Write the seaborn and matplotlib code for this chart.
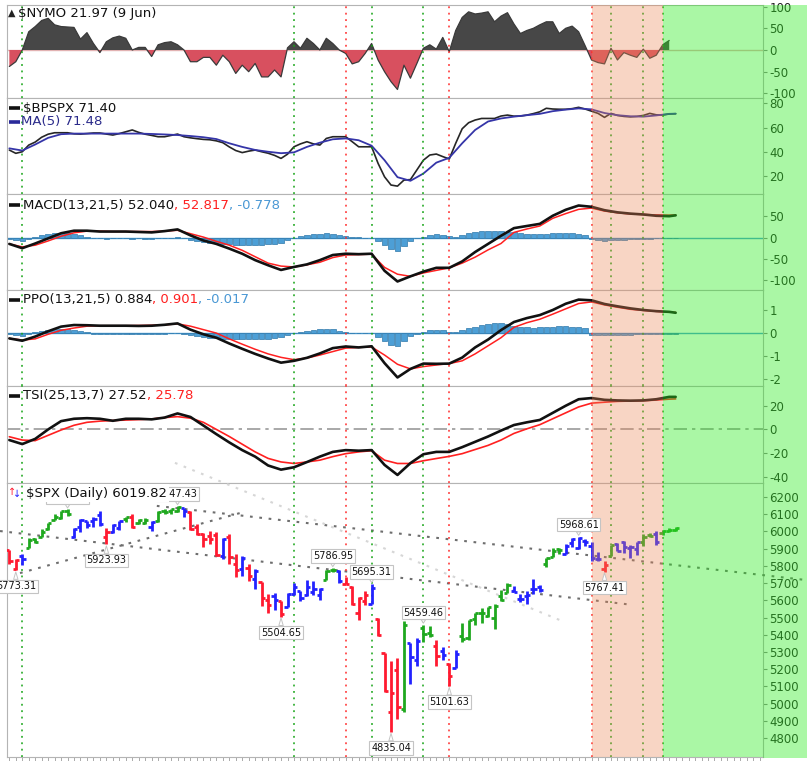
#!/usr/bin/env python3
# -*- coding: utf-8 -*-
"""
StockCharts-style breadth panel: $NYMO, $BPSPX, MACD, PPO, TSI and $SPX daily bars.
Saves out.png (807x761).
"""

import numpy as np
import pandas as pd
import seaborn as sns
import matplotlib
matplotlib.use("Agg")
import matplotlib.pyplot as plt
from matplotlib.patches import Rectangle

# -------------------------- Data --------------------------
# trading-day index 0 = 10 Jan 2025 ... 103 = 10 Jun 2025
spx_open = [5890, 5782, 5859, 5905, 5958, 5969, 6015, 6069, 6077, 6121,
            5970, 6026, 6058, 6063, 6097, 5969, 5998, 6020, 6072, 6083,
            6046, 6049, 6025, 6060, 6116, 6121, 6118, 6134, 6115, 6026,
            5982, 5971, 5981, 5857, 5968, 5812, 5782, 5786, 5726, 5705,
            5604, 5624, 5594, 5563, 5635, 5654, 5633, 5646, 5630, 5719,
            5775, 5772, 5696, 5679, 5527, 5597, 5581, 5492, 5292, 4953,
            5194, 4966, 5353, 5255, 5441, 5412, 5335, 5306, 5232, 5207,
            5395, 5381, 5490, 5529, 5509, 5499, 5626, 5645, 5655, 5605,
            5626, 5663, 5679, 5808, 5854, 5895, 5870, 5930, 5903, 5945,
            5915, 5841, 5781, 5855, 5926, 5939, 5903, 5897, 5939, 5978,
            5985, 5988, 6004, 6010]
spx_high = [5890, 5837, 5871, 5960, 5961, 6014, 6051, 6100, 6118, 6128,
            6017, 6070, 6063, 6086, 6121, 6022, 6042, 6062, 6084, 6101,
            6074, 6076, 6063, 6116, 6128, 6130, 6147, 6134, 6120, 6044,
            5992, 6000, 5994, 5959, 5986, 5866, 5860, 5812, 5783, 5706,
            5636, 5642, 5598, 5645, 5703, 5654, 5715, 5711, 5670, 5775,
            5787, 5777, 5733, 5685, 5621, 5651, 5695, 5500, 5293, 5246,
            5267, 5481, 5353, 5381, 5459, 5450, 5367, 5329, 5233, 5309,
            5469, 5485, 5528, 5553, 5563, 5581, 5659, 5700, 5683, 5637,
            5655, 5721, 5691, 5846, 5906, 5906, 5924, 5959, 5969, 5954,
            5939, 5878, 5830, 5922, 5930, 5944, 5922, 5937, 5982, 5990,
            6000, 6007, 6022, 6024]
spx_low = [5809, 5773, 5805, 5905, 5930, 5969, 6007, 6065, 6074, 6088,
           5962, 5994, 6019, 6027, 6030, 5924, 5991, 6007, 6056, 6020,
           6044, 6043, 6003, 6053, 6103, 6099, 6111, 6084, 6009, 5977,
           5909, 5928, 5858, 5837, 5810, 5733, 5743, 5711, 5667, 5566,
           5529, 5546, 5505, 5563, 5632, 5597, 5622, 5632, 5603, 5719,
           5764, 5703, 5695, 5572, 5488, 5572, 5578, 5391, 5070, 4835,
           4911, 4949, 5115, 5221, 5358, 5387, 5221, 5255, 5102, 5207,
           5357, 5372, 5456, 5468, 5505, 5434, 5597, 5645, 5647, 5592,
           5579, 5635, 5650, 5794, 5854, 5868, 5867, 5908, 5895, 5914,
           5830, 5826, 5767, 5855, 5887, 5873, 5843, 5861, 5918, 5967,
           5921, 5979, 5994, 6000]
spx_close = [5827, 5836, 5842, 5950, 5937, 5997, 6049, 6086, 6119, 6101,
             6012, 6068, 6039, 6071, 6041, 5994, 6038, 6061, 6084, 6026,
             6066, 6068, 6052, 6115, 6115, 6129, 6144, 6118, 6013, 5983,
             5955, 5956, 5861, 5955, 5849, 5778, 5843, 5739, 5770, 5615,
             5572, 5599, 5522, 5639, 5675, 5615, 5675, 5663, 5667, 5768,
             5777, 5712, 5693, 5581, 5612, 5633, 5671, 5397, 5074, 5062,
             4982, 5457, 5268, 5363, 5406, 5397, 5276, 5283, 5158, 5288,
             5376, 5485, 5525, 5529, 5561, 5569, 5604, 5687, 5650, 5607,
             5631, 5664, 5660, 5844, 5886, 5892, 5917, 5958, 5964, 5941,
             5845, 5842, 5802, 5922, 5889, 5912, 5912, 5936, 5970, 5971,
             5939, 6000, 6006, 6020]
# impulse colour per bar: G up, R down, B neutral
spx_impulse = ("RRBGGGGGGG" "BBBBBRBBGR" "GGBGGGGBRR" "RRRBRRBRBR"
               "RBRBBBBBBG" "GBRRRRBRRR" "RGBBGGRBRB" "GGGGGGGGBB"
               "BBBGGGBBBB" "BBRGBBBBGG" "BGGG")

nymo = [-38, -27, 0, 42, 54, 68, 73, 58, 54, 53,
        52, 25, 40, 15, -6, 19, 28, 32, 27, 0,
        6, 6, -15, 12, 17, 19, 12, 0, -27, -27,
        -17, -17, -35, -12, -27, -54, -35, -50, -31, -62,
        -62, -46, -62, 5, 19, 4, 27, 15, 0, 27,
        15, 0, -8, -32, -27, -8, 15, -23, -50, -73,
        -91, -35, -65, -31, 4, 12, 2, 29, -4, 45,
        75, 88, 83, 85, 88, 65, 78, 86, 60, 38,
        45, 50, 58, 65, 65, 38, 50, 55, 42, 10,
        -23, -29, -32, 4, -23, -6, -12, -17, 2, -19,
        -12, 12, 22]

bpspx = [41.4, 38.7, 40, 45.5, 48, 52, 54.5, 55.7, 55.7, 55.7,
         54.8, 54.6, 55, 55.5, 55.5, 54.6, 53.8, 55, 56.5, 58,
         56, 54.5, 53.5, 52.4, 52.4, 53.5, 54.6, 52.4, 51.5, 50.8,
         50.2, 49.9, 49, 47.5, 44, 41, 39.3, 40.5, 41.4, 40,
         38.8, 37, 34.5, 38, 44.1, 46.5, 48.3, 46.5, 45.5, 51,
         52.4, 52.4, 52.4, 48.3, 44.1, 44.1, 44.1, 30.4, 19.3, 12.5,
         11.6, 16.6, 17, 25, 33, 37.3, 38.1, 36, 34, 47,
         59, 64, 66.2, 67.5, 67.5, 67.5, 69.5, 70.3, 69.4, 69.5,
         70.3, 71.5, 73, 75.9, 75.3, 75.1, 75.1, 75.6, 76.7, 75.3,
         73.5, 71.7, 68.4, 71.7, 70, 69.2, 68.8, 69.2, 70, 71.7,
         70.5, 70.3, 71.2, 71.4]

# smooth indicator lines are read every second session
line_days = [*range(0, 103, 2), 103]
bpspx_ma5 = [42.8, 41, 46, 51.5, 54.5, 55, 55, 55, 55, 55, 55, 54.7, 54.3, 53.8,
             53, 52, 50.5, 47, 44, 41.5, 40, 38.8, 39.5, 44, 47.5, 50.3, 51,
             49.5, 45, 33, 19, 16, 22, 31, 35, 47, 58, 65, 67.5, 69, 70.2, 71.3,
             73.5, 74.8, 75.8, 75, 72, 70.2, 69.3, 69, 70, 71.3, 71.48]

macd_line = [-15, -25, -14, -2, 10, 16, 16, 14, 14, 14, 13, 12, 15, 19, 5, -7, -15,
             -26, -38, -53, -65, -76, -69, -63, -53, -41, -38, -39, -38, -78, -103,
             -91, -80, -71, -71, -56, -34, -15, 4, 22, 27, 32, 51, 65, 75, 72, 64,
             59, 56, 54, 51, 50, 52]
macd_signal = [-15, -22, -18, -8, 3, 11, 15, 15, 14, 14, 14, 14, 15, 17, 9, 1, -9,
               -18, -30, -45, -60, -67, -69, -64, -58, -47, -41, -40, -39, -70, -86,
               -91, -83, -77, -71, -60, -46, -29, -14, 12, 20, 27, 45, 56, 66, 69, 62,
               58, 55, 54, 53, 52.5, 52.8]
macd_hist = [-4, -6, -7, -3, 1, 5, 8, 10, 11, 11,
             9, 6, 2, -1, -2, -3, -2, -2, -1, -3,
             -2, -3, -3, -2, -1, 0, 1, -2, -6, -8,
             -10, -12, -13, -15, -16, -17, -18, -18, -18, -17,
             -16, -15, -12, -6, 0, 3, 6, 8, 9, 10,
             9, 6, 3, 1, 1, 0, 0, -8, -18, -27,
             -31, -20, -8, -2, 2, 6, 8, 6, 3, 2,
             6, 10, 13, 15, 15, 15, 15, 14, 12, 10,
             9, 8, 9, 9, 10, 11, 11, 10, 9, 6,
             -4, -6, -7, -6, -5, -5, -4, -4, -3, -3,
             -2, -2, -1, -1]

ppo_line = [-0.23, -0.33, -0.15, 0.08, 0.28, 0.35, 0.34, 0.32, 0.32, 0.32, 0.31,
            0.32, 0.36, 0.42, 0.15, -0.05, -0.2, -0.45, -0.68, -0.9, -1.1, -1.28,
            -1.2, -1.07, -0.88, -0.65, -0.58, -0.62, -0.57, -1.3, -1.92, -1.55,
            -1.32, -1.33, -1.32, -1.06, -0.62, -0.28, 0.13, 0.48, 0.65, 0.78, 1.0,
            1.27, 1.45, 1.42, 1.26, 1.16, 1.07, 1.0, 0.95, 0.92, 0.88]
ppo_signal = [-0.23, -0.3, -0.25, -0.05, 0.12, 0.22, 0.3, 0.32, 0.32, 0.32, 0.33,
              0.34, 0.36, 0.4, 0.3, 0.15, 0.0, -0.25, -0.48, -0.7, -0.9, -1.05,
              -1.15, -1.08, -0.95, -0.8, -0.65, -0.62, -0.6, -0.95, -1.35, -1.55,
              -1.45, -1.38, -1.32, -1.2, -0.9, -0.55, -0.2, 0.25, 0.45, 0.6, 0.82,
              1.05, 1.28, 1.35, 1.22, 1.12, 1.03, 0.98, 0.94, 0.91, 0.90]
ppo_hist = [-0.06, -0.1, -0.12, -0.06, 0.03, 0.1, 0.15, 0.18, 0.19, 0.18,
            0.15, 0.1, 0.04, -0.02, -0.04, -0.05, -0.04, -0.04, -0.02, -0.05,
            -0.04, -0.05, -0.05, -0.04, -0.02, 0.0, 0.02, -0.04, -0.1, -0.14,
            -0.17, -0.2, -0.22, -0.24, -0.25, -0.26, -0.27, -0.27, -0.26, -0.25,
            -0.24, -0.22, -0.18, -0.09, 0.0, 0.06, 0.11, 0.15, 0.17, 0.19,
            0.17, 0.11, 0.06, 0.02, 0.02, 0.0, 0.0, -0.15, -0.33, -0.5,
            -0.55, -0.36, -0.14, -0.04, 0.04, 0.12, 0.15, 0.12, 0.06, 0.04,
            0.12, 0.2, 0.28, 0.35, 0.4, 0.42, 0.42, 0.38, 0.32, 0.28,
            0.26, 0.24, 0.26, 0.27, 0.28, 0.3, 0.3, 0.28, 0.26, 0.22,
            -0.07, -0.09, -0.1, -0.09, -0.08, -0.08, -0.07, -0.06, -0.05, -0.05,
            -0.04, -0.03, -0.02, -0.02]

tsi_line = [-9, -12.4, -8, 0, 7, 9, 9.5, 9, 7.3, 9, 9, 8.5, 10, 13.5, 10.5, 3.3, -4,
            -11, -17.5, -23, -30.5, -34, -32, -27.6, -23, -19, -17.5, -18, -17.5, -30,
            -38.5, -28.5, -21, -19, -19, -15, -10.5, -6, -1, 3.7, 6, 8, 14, 20, 25.5,
            26.5, 25, 24.5, 24.3, 24.5, 25.5, 27.5, 27.5]
tsi_signal = [-6.2, -9, -9.5, -5, -0.5, 3.5, 6, 7, 7.5, 7.9, 8.3, 8.8, 10, 10.8, 9.5,
              6, 0, -6, -12.5, -19, -24.5, -27.5, -28.8, -27.5, -26, -23, -20.5, -19,
              -18, -26, -28.8, -28.8, -26.5, -24.6, -22.8, -20.5, -17, -13.5, -9, -3.4,
              0.5, 4, 9, 14, 19, 22.2, 23, 23.7, 24, 24.3, 24.8, 25.6, 25.8]

# event markers (session index) and shaded windows
event_days = [2, 44, 52, 56, 64, 68, 90, 93, 98, 101]
event_kind = ["buy", "buy", "sell", "buy", "buy", "sell", "sell", "buy", "buy", "buy"]
caution_start, caution_end = 90, 101
go_start = 101

# swing labels: session, kind, text
swing_days = [1, 9, 15, 26, 42, 50, 56, 59, 64, 68, 88, 92]
swing_kind = ["low", "high", "low", "high", "low", "high", "high", "low", "high", "low", "high", "low"]
swing_text = ["5773.31", "6128.18", "5923.93", "6147.43", "5504.65", "5786.95",
              "5695.31", "4835.04", "5459.46", "5101.63", "5968.61", "5767.41"]

# hand-drawn trendlines: (day0, price0) -> (day1, price1)
trend_x0 = [-1.44, 1.65, 22.8, 25.6]
trend_y0 = [6002, 5758, 6148, 6398]
trend_x1 = [96.4, 35.7, 124.0, 85.1]
trend_y1 = [5573, 6107, 5714, 5485]
trend_shade = ["dark", "dark", "dark", "light"]

# -------------------------- Style --------------------------
sns.set_theme(style="white")
plt.rcParams["font.family"] = ["DejaVu Sans"]
plt.rcParams["axes.unicode_minus"] = False

W, H = 807, 761
PLOT_L, PLOT_R = 7, 763
PANELS = [(5, 98), (98, 194), (194, 290), (290, 386), (386, 483), (483, 757)]
XLIM = (-0.36, 116.5)

SALMON = (235 / 255, 135 / 255, 86 / 255)
GREEN = (43 / 255, 235 / 255, 30 / 255)
BAR_COL = {"G": "#1fa81f", "R": "#ff1a30", "B": "#2222ff"}
EVENT_COL = {"buy": "#13a313", "sell": "#ff2a2a"}
HIST_FC, HIST_EC = "#4d9fd6", "#2f78aa"
TITLE_FS = 9.5

fig = plt.figure(figsize=(W / 100, H / 100), dpi=100)
fig.patch.set_facecolor("white")

axes = []
for top, bot in PANELS:
    ax = fig.add_axes([PLOT_L / W, 1 - bot / H, (PLOT_R - PLOT_L) / W, (bot - top) / H])
    ax.set_xlim(*XLIM)
    ax.set_facecolor("white")
    for sp in ax.spines.values():
        sp.set_color("#b4b4b4")
        sp.set_linewidth(0.8)
    ax.yaxis.tick_right()
    ax.tick_params(axis="y", labelsize=8.5, length=3, width=0.8, color="#888888",
                   labelcolor="#222222", pad=1.5, direction="out")
    ax.tick_params(axis="x", bottom=False, labelbottom=False)
    axes.append(ax)

ax_nymo, ax_bp, ax_macd, ax_ppo, ax_tsi, ax_spx = axes


def title_parts(ax, panel, px, py, parts, bbox=None, fs=TITLE_FS):
    top, bot = panel
    x = (px - PLOT_L) / (PLOT_R - PLOT_L)
    y = (bot - py) / (bot - top)
    t = ax.text(x, y, parts[0][0], color=parts[0][1], transform=ax.transAxes,
                fontsize=fs, va="center", ha="left", zorder=20, bbox=bbox)
    for s, c in parts[1:]:
        t = ax.annotate(s, xy=(1, 0), xycoords=t, va="bottom", ha="left",
                        color=c, fontsize=fs, zorder=20)
    return t


def legend_dash(ax, panel, px0, px1, py, color):
    top, bot = panel
    xs = [(p - PLOT_L) / (PLOT_R - PLOT_L) for p in (px0, px1)]
    y = (bot - py) / (bot - top)
    ax.plot(xs, [y, y], transform=ax.transAxes, color=color, lw=2.6,
            solid_capstyle="butt", zorder=20, clip_on=False)


# -------------------------- $NYMO --------------------------
nymo_days = np.arange(len(nymo))
nymo_arr = np.array(nymo, dtype=float)
ax_nymo.fill_between(nymo_days, nymo_arr, 0, where=nymo_arr >= 0, interpolate=True,
                     color="#474747", lw=0, zorder=2)
ax_nymo.fill_between(nymo_days, nymo_arr, 0, where=nymo_arr <= 0, interpolate=True,
                     color="#d8505f", lw=0, zorder=2)
sns.lineplot(x=nymo_days, y=nymo_arr, ax=ax_nymo, color="#3a3a3a", lw=0.9,
             legend=False, zorder=3)
ax_nymo.axhline(0, color="#e3b3b3", lw=1, zorder=1.5)
ax_nymo.set_ylim(-110.6, 103.7)
ax_nymo.set_yticks([-100, -50, 0, 50, 100])
title_parts(ax_nymo, PANELS[0], 8, 13, [("▲", "#222222")], fs=7)
title_parts(ax_nymo, PANELS[0], 18, 13, [("$NYMO 21.97 (9 Jun)", "#111111")])

# -------------------------- $BPSPX --------------------------
bp_df = pd.DataFrame({"day": np.arange(len(bpspx)), "bp": bpspx})
ma_df = pd.DataFrame({"day": line_days, "ma": bpspx_ma5})
sns.lineplot(data=bp_df, x="day", y="bp", ax=ax_bp, color="#262626", lw=1.2,
             legend=False, zorder=3)
sns.lineplot(data=ma_df, x="day", y="ma", ax=ax_bp, color="#3535a8", lw=1.3,
             legend=False, zorder=3)
ax_bp.set_ylim(5.1, 84.4)
ax_bp.set_yticks([20, 40, 60, 80])
legend_dash(ax_bp, PANELS[1], 9, 20, 108, "#111111")
title_parts(ax_bp, PANELS[1], 23, 108, [("$BPSPX 71.40", "#111111")])
legend_dash(ax_bp, PANELS[1], 9, 20, 122, "#2a2a9a")
title_parts(ax_bp, PANELS[1], 21, 122, [("MA(5) 71.48", "#2a2a8a")])


# -------------------------- MACD / PPO --------------------------
def osc_panel(ax, hist, line, signal):
    hd = np.arange(len(hist))
    ax.bar(hd, hist, width=0.85, color=HIST_FC, edgecolor=HIST_EC, lw=0.5, zorder=2)
    ax.axhline(0, color=HIST_FC, lw=1, zorder=1.5)
    df = pd.DataFrame({"day": line_days, "line": line, "signal": signal})
    sns.lineplot(data=df, x="day", y="signal", ax=ax, color="#ff2020", lw=1.1,
                 legend=False, zorder=3)
    sns.lineplot(data=df, x="day", y="line", ax=ax, color="#111111", lw=1.9,
                 legend=False, zorder=4)


osc_panel(ax_macd, macd_hist, macd_line, macd_signal)
ax_macd.set_ylim(-123, 102)
ax_macd.set_yticks([-100, -50, 0, 50])
legend_dash(ax_macd, PANELS[2], 9, 20, 205, "#111111")
title_parts(ax_macd, PANELS[2], 23, 205, [("MACD(13,21,5) 52.040", "#111111"),
                                          (", 52.817", "#ff2020"),
                                          (", -0.778", "#4a98d4")])

osc_panel(ax_ppo, ppo_hist, ppo_line, ppo_signal)
ax_ppo.set_ylim(-2.29, 1.866)
ax_ppo.set_yticks([-2, -1, 0, 1])
legend_dash(ax_ppo, PANELS[3], 9, 20, 300, "#111111")
title_parts(ax_ppo, PANELS[3], 23, 300, [("PPO(13,21,5) 0.884", "#111111"),
                                         (", 0.901", "#ff2020"),
                                         (", -0.017", "#4a98d4")])

# -------------------------- TSI --------------------------
tsi_df = pd.DataFrame({"day": line_days, "tsi": tsi_line, "sig": tsi_signal})
ax_tsi.axhline(0, color="#9a9a9a", lw=1.2, ls=(0, (8, 3, 2, 3)), zorder=1.5)
sns.lineplot(data=tsi_df, x="day", y="sig", ax=ax_tsi, color="#ff2020", lw=1.2,
             legend=False, zorder=3)
sns.lineplot(data=tsi_df, x="day", y="tsi", ax=ax_tsi, color="#111111", lw=1.9,
             legend=False, zorder=4)
ax_tsi.set_ylim(-45.3, 36.7)
ax_tsi.set_yticks([-40, -20, 0, 20])
legend_dash(ax_tsi, PANELS[4], 9, 20, 396, "#111111")
title_parts(ax_tsi, PANELS[4], 23, 396, [("TSI(25,13,7) 27.52", "#111111"),
                                         (", 25.78", "#ff2020")])

# -------------------------- $SPX bars --------------------------
spx = pd.DataFrame({"open": spx_open, "high": spx_high, "low": spx_low,
                    "close": spx_close, "imp": list(spx_impulse)})
spx["day"] = np.arange(len(spx))
cols = spx["imp"].map(BAR_COL).tolist()
TICK = 0.5
ax_spx.vlines(spx["day"], spx["low"], spx["high"], colors=cols, lw=2.0, zorder=4)
ax_spx.hlines(spx["open"], spx["day"] - TICK, spx["day"], colors=cols, lw=2.0, zorder=4)
ax_spx.hlines(spx["close"], spx["day"], spx["day"] + TICK, colors=cols, lw=2.0, zorder=4)
ax_spx.set_ylim(4690, 6281)
ax_spx.set_yticks(np.arange(4800, 6201, 100))
ax_spx.set_xticks(np.arange(0, 117))
ax_spx.tick_params(axis="x", bottom=True, labelbottom=False, length=3, width=0.7,
                   color="#aaaaaa", direction="out")

for x0, y0, x1, y1, shade in zip(trend_x0, trend_y0, trend_x1, trend_y1, trend_shade):
    col = "#6e6e6e" if shade == "dark" else "#d6d6d6"
    ax_spx.plot([x0, x1], [y0, y1], color=col, lw=1.5, ls=(0, (1.3, 3.2)),
                zorder=3, clip_on=False)

for d, kind, txt in zip(swing_days, swing_kind, swing_text):
    yv = spx_low[d] if kind == "low" else spx_high[d]
    off = -16 if kind == "low" else 12
    ax_spx.annotate(txt, xy=(d, yv), xytext=(0, off), textcoords="offset pixels",
                    ha="center", va="center", fontsize=7, color="#111111", zorder=12,
                    annotation_clip=False,
                    bbox=dict(boxstyle="square,pad=0.18", fc="white", ec="#c4c4c4", lw=0.8),
                    arrowprops=dict(arrowstyle="wedge,tail_width=0.45", fc="white",
                                    ec="#c4c4c4", lw=0.7, shrinkA=0, shrinkB=1))

title_parts(ax_spx, PANELS[5], 8, 492, [("↑", "#ff1a30")], fs=7)
title_parts(ax_spx, PANELS[5], 13, 494, [("↓", "#2222ff")], fs=7)
title_parts(ax_spx, PANELS[5], 26, 493, [("$SPX (Daily) 6019.82", "#111111")],
            bbox=dict(fc="white", ec="none", pad=1.5))

# -------------------------- events & shading --------------------------
for ax in axes:
    for d, k in zip(event_days, event_kind):
        ax.axvline(d, color=EVENT_COL[k], lw=1.1, ls=(0, (1.2, 3)), zorder=3.5)
    ax.axvspan(caution_start, caution_end, color=SALMON, alpha=0.35, lw=0, zorder=10)
    ax.axvspan(go_start, XLIM[1], color=GREEN, alpha=0.4, lw=0, zorder=10)
    ax.set_xlabel("")
    ax.set_ylabel("")

# green window continues over the price scale strip
fig.add_artist(Rectangle((PLOT_R / W, 1 - 758 / H), (W - PLOT_R) / W, 753 / H,
                         transform=fig.transFigure, color=GREEN, alpha=0.4, lw=0,
                         zorder=5))

fig.savefig("out.png", dpi=100)
plt.close(fig)
